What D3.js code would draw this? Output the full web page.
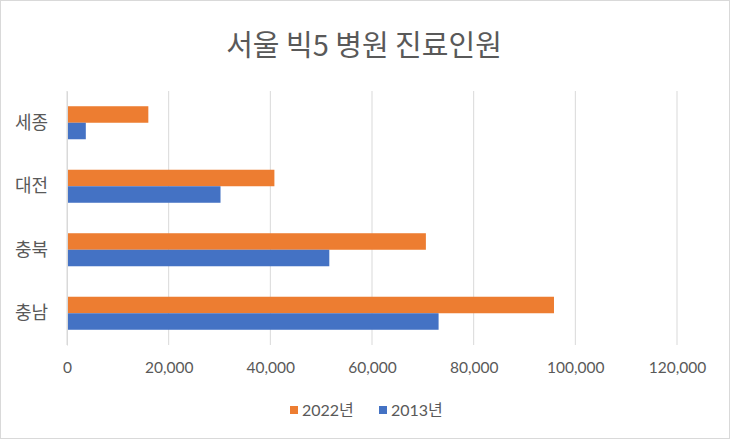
<!DOCTYPE html>
<html>
<head>
<meta charset="utf-8">
<script src="https://cdn.jsdelivr.net/npm/d3@7"></script>
<style>
  body { margin: 0; background: #fff; }
  svg { font-family: Lato, "Noto Sans CJK KR", sans-serif; }
</style>
</head>
<body>
<svg id="chart" width="730" height="439"></svg>
<script>
var regions = ["세종", "대전", "충북", "충남"];
var series = ["2022년", "2013년"];
var values2022 = [16000, 40800, 70600, 95800];
var values2013 = [3700, 30200, 51600, 73100];
var xTicks = [0, 20000, 40000, 60000, 80000, 100000, 120000];

var colors = { "2022년": "#ED7D31", "2013년": "#4472C4" };

var data = regions.map(function (r, i) {
    return { region: r, "2022년": values2022[i], "2013년": values2013[i] };
});

var svg = d3.select('#chart');
var width = 730, height = 439;
var margin = { top: 91, left: 67, bottom: 94, right: 53 };

// border
svg.append("rect")
    .attr("x", 0.5).attr("y", 0.5)
    .attr("width", width - 1).attr("height", height - 1)
    .attr("fill", "#fff").attr("stroke", "#d9d9d9");

var x = d3.scaleLinear().domain([0, 120000]).range([margin.left, width - margin.right]);
var y = d3.scaleBand().domain(regions).range([margin.top, height - margin.bottom]).paddingInner(0.48).paddingOuter(0.24);
var ySub = d3.scaleBand().domain(series).range([0, y.bandwidth()]);

// gridlines
svg.append("g")
    .selectAll("line")
    .data(xTicks)
    .enter().append("line")
    .attr("x1", function (d) { return x(d); })
    .attr("x2", function (d) { return x(d); })
    .attr("y1", margin.top)
    .attr("y2", height - margin.bottom)
    .attr("stroke", "#d9d9d9")
    .attr("stroke-width", 1);

// bars
var groups = svg.append("g")
    .selectAll("g")
    .data(data)
    .enter().append("g")
    .attr("transform", function (d) { return "translate(0," + y(d.region) + ")"; });

groups.selectAll("rect")
    .data(function (d) { return series.map(function (s) { return { key: s, value: d[s] }; }); })
    .enter().append("rect")
    .attr("x", x(0))
    .attr("y", function (d) { return ySub(d.key); })
    .attr("width", function (d) { return x(d.value) - x(0); })
    .attr("height", ySub.bandwidth())
    .attr("fill", function (d) { return colors[d.key]; });

// x axis labels
var xAxis = d3.axisBottom(x).tickValues(xTicks).tickSize(0).tickPadding(17).tickFormat(d3.format(","));
var gx = svg.append("g")
    .attr("transform", "translate(0," + (height - margin.bottom) + ")")
    .call(xAxis);
gx.select(".domain").remove();
gx.selectAll("text").attr("font-size", 15.5).attr("fill", "#595959").attr("font-family", "Lato, sans-serif");

// y axis labels
var yAxis = d3.axisLeft(y).tickSize(0).tickPadding(19);
var gy = svg.append("g")
    .attr("transform", "translate(" + margin.left + ",0)")
    .call(yAxis);
gy.select(".domain").attr("stroke", "#d9d9d9");
gy.selectAll("text").attr("font-size", 18).attr("fill", "#595959").attr("font-family", "'Noto Sans CJK KR', sans-serif");

// title
svg.append("text")
    .attr("x", 364)
    .attr("y", 56)
    .attr("text-anchor", "middle")
    .attr("font-size", 29)
    .attr("fill", "#595959")
    .attr("font-family", "'Noto Sans CJK KR', sans-serif")
    .text("서울 빅5 병원 진료인원");

// legend
var legendX = [290, 379];
var legend = svg.append("g")
    .selectAll("g")
    .data(series)
    .enter().append("g")
    .attr("transform", function (d, i) { return "translate(" + legendX[i] + ",410)"; });
legend.append("rect")
    .attr("x", 0).attr("y", -4)
    .attr("width", 8).attr("height", 8)
    .attr("fill", function (d) { return colors[d]; });
legend.append("text")
    .attr("x", 12)
    .attr("y", 0)
    .attr("dy", "0.35em")
    .attr("font-size", 16)
    .attr("fill", "#595959")
    .text(function (d) { return d; });
</script>
</body>
</html>
